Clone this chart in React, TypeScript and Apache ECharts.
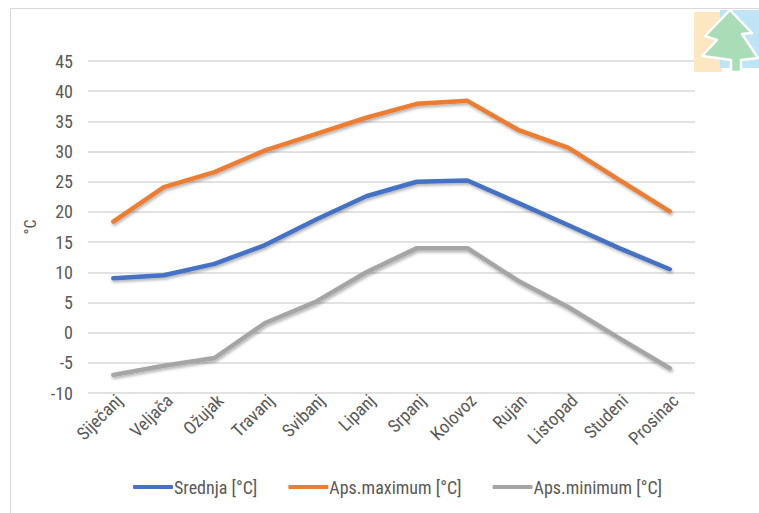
import React, { useEffect, useRef } from "react";
import * as echarts from "echarts";

const months = ["Siječanj", "Veljača", "Ožujak", "Travanj", "Svibanj", "Lipanj", "Srpanj", "Kolovoz", "Rujan", "Listopad", "Studeni", "Prosinac"];
const srednja = [9.0, 9.5, 11.4, 14.5, 18.7, 22.6, 25.0, 25.2, 21.5, 17.8, 14.0, 10.5];
const apsMax = [18.4, 24.1, 26.6, 30.2, 32.9, 35.6, 37.9, 38.4, 33.6, 30.6, 25.3, 20.1];
const apsMin = [-7.0, -5.5, -4.2, 1.6, 5.1, 10.0, 14.0, 14.0, 8.6, 4.2, -0.9, -5.9];
const seriesNames = ["Srednja [°C]", "Aps.maximum [°C]", "Aps.minimum [°C]"];
const colors = ["#4472C4", "#ED7D31", "#A5A5A5"];

const FONT = "'Liberation Sans Narrow', 'Arial Narrow', 'Roboto Condensed', 'Liberation Sans', sans-serif";

export default function App() {
  const ref = useRef<HTMLDivElement>(null);
  useEffect(() => {
    if (!ref.current) return;
    const chart = echarts.init(ref.current, null, { renderer: "svg" });
    const mk = (name: string, data: number[], color: string) => ({
      name,
      type: "line",
      data,
      symbol: "none",
      smooth: false,
      lineStyle: {
        width: 4.5,
        color,
        cap: "round",
        join: "round",
        shadowColor: "rgba(0,0,0,0.3)",
        shadowBlur: 3,
        shadowOffsetY: 2,
        shadowOffsetX: 1,
      },
      itemStyle: { color },
    });
    chart.setOption({
      animation: false,
      backgroundColor: "#ffffff",
      graphic: [
        { type: "rect", shape: { x: 10.5, y: 8.5, width: 800, height: 600 }, style: { fill: "none", stroke: "#D9D9D9", lineWidth: 1 }, z: 0 },
        { type: "rect", shape: { x: 694, y: 12, width: 28, height: 60 }, style: { fill: "#FDE6C2" }, z: 10 },
        { type: "rect", shape: { x: 720, y: 10, width: 39, height: 58 }, style: { fill: "#BFE4F6" }, z: 10 },
        {
          type: "polygon",
          shape: {
            points: [
              [730, 10], [752, 33], [742, 34], [758, 58], [741, 60], [741, 72], [731, 72], [731, 60],
              [702, 56], [717, 40], [705, 36],
            ],
          },
          style: { fill: "#A9DDB8", stroke: "#ffffff", lineWidth: 2.5, lineJoin: "round" },
          z: 11,
        },
      ],
      grid: { left: 88, right: 64, top: 61, bottom: 120 },
      legend: {
        bottom: 12,
        left: 128,
        itemWidth: 40,
        itemHeight: 4,
        itemGap: 31,
        icon: "roundRect",
        textStyle: { color: "#595959", fontSize: 18, fontFamily: FONT, padding: [0, 0, 0, -4] },
        data: seriesNames,
      },
      xAxis: {
        type: "category",
        data: months,
        boundaryGap: true,
        axisLine: { show: false },
        axisTick: { show: false },
        axisLabel: { rotate: 45, color: "#595959", fontSize: 18, fontFamily: FONT, margin: 10, interval: 0, padding: [0, -8, 0, 0] },
      },
      yAxis: {
        type: "value",
        min: -10,
        max: 45,
        interval: 5,
        name: "°C",
        nameLocation: "middle",
        nameGap: 50,
        nameRotate: 90,
        nameTextStyle: { color: "#595959", fontSize: 16, fontFamily: FONT },
        axisLine: { show: false },
        axisTick: { show: false },
        axisLabel: { color: "#595959", fontSize: 18, fontFamily: FONT, margin: 15 },
        splitLine: { lineStyle: { color: "#D9D9D9", width: 1.5 } },
      },
      series: [mk(seriesNames[0], srednja, colors[0]), mk(seriesNames[1], apsMax, colors[1]), mk(seriesNames[2], apsMin, colors[2])],
    });
    return () => chart.dispose();
  }, []);
  return <div ref={ref} style={{ position: "fixed", left: 0, top: 0, width: 759, height: 513 }} />;
}
